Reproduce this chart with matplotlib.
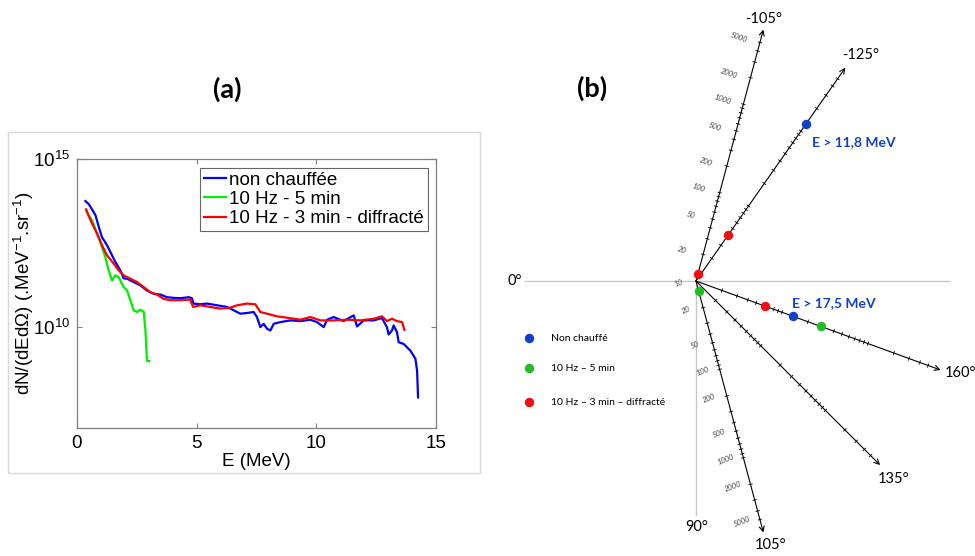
import numpy as np
import matplotlib
matplotlib.use('Agg')
import matplotlib.pyplot as plt
from matplotlib.patches import Rectangle
from matplotlib.collections import LineCollection
from matplotlib.ticker import NullLocator

plt.rcParams['font.family'] = ['Liberation Sans', 'DejaVu Sans']
plt.rcParams['mathtext.fontset'] = 'custom'
plt.rcParams['mathtext.rm'] = 'Liberation Sans'
plt.rcParams['mathtext.it'] = 'Liberation Sans:italic'
plt.rcParams['mathtext.bf'] = 'Liberation Sans:bold'

# ---------------- Panel (a) data (E in MeV, log10 of dN/dEdOmega) ----------------
E_blue = [0.35, 0.49, 0.63, 0.77, 0.91, 1.04, 1.25, 1.46, 1.60, 1.81, 1.95, 2.09, 2.37,
          2.65, 2.92, 3.20, 3.48, 3.76, 4.04, 4.32, 4.67, 4.80, 4.87, 5.15, 5.43, 5.85,
          6.27, 6.55, 6.82, 7.10, 7.38, 7.52, 7.66, 7.80, 7.94, 8.08, 8.22, 8.50, 8.91,
          9.33, 9.75, 10.03, 10.31, 10.45, 10.72, 11.14, 11.56, 11.70, 11.98, 12.40,
          12.74, 12.95, 13.02, 13.16, 13.23, 13.37, 13.44, 13.65, 13.93, 14.14, 14.21, 14.25]
logN_blue = [13.75, 13.66, 13.50, 13.33, 12.98, 12.68, 12.44, 12.14, 11.94, 11.69, 11.45,
             11.44, 11.34, 11.24, 11.09, 10.99, 10.97, 10.89, 10.87, 10.86, 10.89, 10.86,
             10.70, 10.68, 10.70, 10.65, 10.60, 10.50, 10.40, 10.42, 10.45, 10.30, 10.00,
             10.10, 9.95, 9.90, 10.10, 10.15, 10.20, 10.18, 10.22, 10.15, 10.00, 10.22,
             10.30, 10.18, 10.35, 10.02, 10.20, 10.20, 10.27, 10.00, 9.78, 9.90, 10.05,
             9.85, 9.55, 9.50, 9.30, 9.06, 8.70, 7.91]

E_green = [0.38, 0.49, 0.63, 0.84, 0.97, 1.18, 1.32, 1.46, 1.60, 1.74, 1.84, 1.95, 2.09,
           2.23, 2.37, 2.51, 2.65, 2.79, 2.86, 2.92, 3.02]
logN_green = [13.48, 13.33, 13.18, 12.78, 12.53, 12.09, 11.69, 11.39, 11.54, 11.49, 11.34,
              11.19, 11.09, 10.80, 10.50, 10.45, 10.52, 10.45, 9.90, 9.00, 8.99]

E_red = [0.38, 0.49, 0.63, 0.84, 1.04, 1.25, 1.53, 1.74, 1.95, 2.23, 2.51, 2.79, 3.06,
         3.34, 3.62, 3.90, 4.32, 4.73, 4.85, 5.15, 5.57, 5.99, 6.41, 6.69, 7.10, 7.45,
         7.66, 7.94, 8.36, 8.77, 9.33, 9.75, 10.17, 10.72, 11.28, 11.84, 12.40, 12.74,
         12.95, 13.16, 13.37, 13.58, 13.68]
logN_red = [13.50, 13.30, 13.08, 12.78, 12.44, 12.14, 11.89, 11.69, 11.54, 11.44, 11.34,
            11.19, 11.04, 10.97, 10.84, 10.80, 10.80, 10.82, 10.60, 10.65, 10.60, 10.55,
            10.58, 10.65, 10.70, 10.68, 10.45, 10.40, 10.32, 10.28, 10.22, 10.30, 10.20,
            10.20, 10.22, 10.20, 10.25, 10.32, 10.18, 10.25, 10.18, 10.15, 9.92]

series_labels = ['non chauffée', '10 Hz - 5 min', '10 Hz - 3 min - diffracté']
x_ticks = [0, 5, 10, 15]
y_ticks = [1e10, 1e15]
y_ticklabels = [r'$\mathregular{10^{10}}$', r'$\mathregular{10^{15}}$']

# ---------------- Panel (b) data ----------------
axis_angles = [-105, -125, 160, 135, 105]           # degrees
axis_labels = ['-105°', '-125°', '160°', '135°', '105°']
radial_ticks = [k * 10 ** d for d in (1, 2, 3) for k in range(1, 10) if 20 <= k * 10 ** d <= 5000]
labels_neg105 = [20, 50, 100, 200, 500, 1000, 2000, 5000]
labels_pos105 = [10, 20, 50, 100, 200, 500, 1000, 2000, 5000]
radial_max = 7000

blue_angles, blue_values = [-125, 160], [1230, 135]
green_angles, green_values = [105, 160], [13, 282]
red_angles, red_values = [-105, -125, 160], [12, 41.5, 63]
dot_names = ['Non chauffé', '10 Hz – 5 min', '10 Hz – 3 min – diffracté']
annot_texts = ['E > 11,8 MeV', 'E > 17,5 MeV']

# ---------------- Figure ----------------
W, H = 975, 556
fig = plt.figure(figsize=(W / 100, H / 100), dpi=100)

# overlay axis in pixel coordinates
ov = fig.add_axes([0, 0, 1, 1])
ov.set_xlim(0, W)
ov.set_ylim(H, 0)
ov.axis('off')

ov.add_patch(Rectangle((8, 132), 472, 341, fill=False, ec='#d9d9d9', lw=1.0))
ov.text(227, 89, '(a)', fontsize=19.5, fontweight='bold', family='Lato', ha='center', va='center')
ov.text(592, 88, '(b)', fontsize=19.5, fontweight='bold', family='Lato', ha='center', va='center')

# ---------- panel (a) ----------
ax = fig.add_axes([77 / W, 1 - 428 / H, 359 / W, 269 / H])
ax.plot(E_blue, 10 ** np.array(logN_blue), color='#0000ff', lw=1.6, label=series_labels[0])
ax.plot(E_green, 10 ** np.array(logN_green), color='#00ee00', lw=1.6, label=series_labels[1])
ax.plot(E_red, 10 ** np.array(logN_red), color='#ff0000', lw=1.6, label=series_labels[2])
ax.set_yscale('log')
ax.set_xlim(0, 15)
ax.set_ylim(1e7, 1e15)
ax.set_xticks(x_ticks)
ax.set_yticks(y_ticks)
ax.set_yticklabels(y_ticklabels)
ax.yaxis.set_minor_locator(NullLocator())
ax.tick_params(direction='in', length=3.5, width=0.8, color='#808080', labelsize=13.5,
               top=True, right=True, pad=5)
for s in ax.spines.values():
    s.set_color('#808080')
    s.set_linewidth(0.9)
ax.set_xlabel('E (MeV)', fontsize=13.5, labelpad=1)
ax.set_ylabel('dN/(dEdΩ) (.MeV$^{-1}$.sr$^{-1}$)', fontsize=13.5, labelpad=-2)
leg = ax.legend(loc='upper right', bbox_to_anchor=(427.7 / W, 1 - 167.7 / H),
                bbox_transform=fig.transFigure, fontsize=13.5, frameon=True, fancybox=False,
                edgecolor='#404040', borderpad=0.2, labelspacing=0.12, handlelength=1.2,
                handletextpad=0.15, borderaxespad=0)
leg.get_frame().set_linewidth(0.8)

# ---------- panel (b) ----------
O = np.array([696.0, 281.0])
decade_px = 91.5


def rad(v):
    return decade_px * np.log10(v / 10.0)


def direction(theta):
    a = np.deg2rad(theta - 180)
    return np.array([np.cos(a), -np.sin(a)])


def point(theta, v):
    return O + rad(v) * direction(theta)


# reference gray lines (0° and 90°)
ov.plot([525, 949], [O[1], O[1]], color='#c8c8c8', lw=1.0, zorder=1)
ov.plot([O[0], O[0]], [O[1], 515], color='#c8c8c8', lw=1.0, zorder=1)
ov.text(515, 281, '0°', fontsize=10.5, family='Lato', ha='center', va='center')
ov.text(697, 527, '90°', fontsize=10.5, family='Lato', ha='center', va='center')

label_offsets = {-105: (0, -11), -125: (15, -13), 160: (4, 3), 135: (13, 14), 105: (7, 13)}
segs = []
for th, lab in zip(axis_angles, axis_labels):
    d = direction(th)
    n = np.array([-d[1], d[0]])
    tip = point(th, radial_max)
    ov.annotate('', xy=tip, xytext=O, arrowprops=dict(arrowstyle='->', lw=0.8, color='black',
                                                      shrinkA=0, shrinkB=0, mutation_scale=9),
                zorder=2)
    for v in radial_ticks:
        p = point(th, v)
        segs.append([p - 2.2 * n, p + 2.2 * n])
    off = label_offsets[th]
    ha = 'left' if th == 160 else 'center'
    ov.text(tip[0] + off[0], tip[1] + off[1], lab, fontsize=10.5, family='Lato', ha=ha, va='center')
ov.add_collection(LineCollection(segs, colors='black', linewidths=0.6, zorder=2))

# radial tick labels
for th, vals, rot in [(-105, labels_neg105, -19), (105, labels_pos105, 21)]:
    for v in vals:
        p = point(th, v)
        if th < 0:
            q = p + np.array([-21.5, -4.5])
        else:
            q = p + np.array([-17.5, 2.0])
        ov.text(q[0], q[1], str(v), fontsize=5.5, family='Lato', style='italic', color='#444444',
                rotation=rot, ha='center', va='center')

# dots
col_blue, col_green, col_red = '#1140c8', '#22bb22', '#ee1111'
for angs, vals, c in [(blue_angles, blue_values, col_blue), (green_angles, green_values, col_green),
                      (red_angles, red_values, col_red)]:
    pts = np.array([point(a, v) for a, v in zip(angs, vals)])
    ov.plot(pts[:, 0], pts[:, 1], 'o', ms=6.8, color=c, mec='none', zorder=4)

ov.text(811.7, 141.7, annot_texts[0], fontsize=10, fontweight='bold', family='Lato',
        color=col_blue, ha='left', va='center')
ov.text(791.7, 303.3, annot_texts[1], fontsize=10, fontweight='bold', family='Lato',
        color=col_blue, ha='left', va='center')

# legend (b)
for y, name, c in zip([337.7, 368.3, 401.7], dot_names, [col_blue, col_green, col_red]):
    ov.plot([529.3], [y], 'o', ms=6.8, color=c, mec='none')
    ov.text(550.7, y + 0.5, name, fontsize=7.5, family='Lato', ha='left', va='center')

fig.savefig('out.png', dpi=100)
